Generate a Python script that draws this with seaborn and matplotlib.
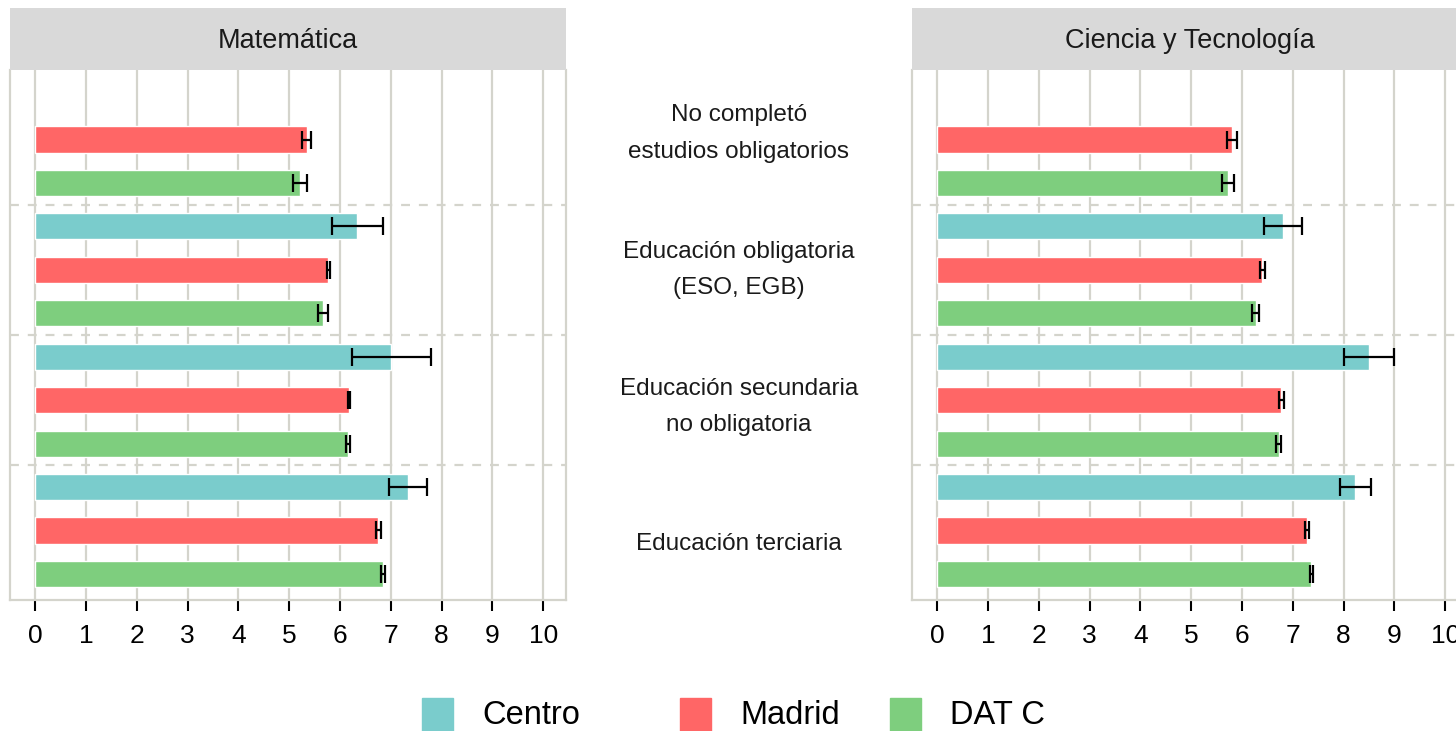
import numpy as np
import pandas as pd
import matplotlib
matplotlib.use("Agg")
import matplotlib.pyplot as plt
import seaborn as sns
from matplotlib.patches import Rectangle

# --- datos -----------------------------------------------------------------
niveles = [
    "No completó\nestudios obligatorios",
    "Educación obligatoria\n(ESO, EGB)",
    "Educación secundaria\nno obligatoria",
    "Educación terciaria",
]
series = ["Centro", "Madrid", "DAT C"]
colores = ["#7ACCCC", "#FF6666", "#7ECE7E"]
materias = ["Matemática", "Ciencia y Tecnología"]

mat_centro = [np.nan, 6.34, 7.01, 7.34]
mat_madrid = [5.34, 5.77, 6.18, 6.75]
mat_datc = [5.21, 5.66, 6.16, 6.84]
mat_centro_err = [np.nan, 0.50, 0.78, 0.37]
mat_madrid_err = [0.08, 0.03, 0.02, 0.05]
mat_datc_err = [0.14, 0.10, 0.04, 0.04]

cyt_centro = [np.nan, 6.81, 8.50, 8.23]
cyt_madrid = [5.81, 6.40, 6.77, 7.27]
cyt_datc = [5.72, 6.27, 6.72, 7.36]
cyt_centro_err = [np.nan, 0.37, 0.50, 0.31]
cyt_madrid_err = [0.10, 0.05, 0.05, 0.04]
cyt_datc_err = [0.12, 0.07, 0.05, 0.03]

valores = {
    "Matemática": [mat_centro, mat_madrid, mat_datc],
    "Ciencia y Tecnología": [cyt_centro, cyt_madrid, cyt_datc],
}
errores = {
    "Matemática": [mat_centro_err, mat_madrid_err, mat_datc_err],
    "Ciencia y Tecnología": [cyt_centro_err, cyt_madrid_err, cyt_datc_err],
}

filas = []
for m in materias:
    for i, nivel in enumerate(niveles):
        for s, serie in enumerate(series):
            filas.append({
                "materia": m,
                "nivel": nivel,
                "serie": serie,
                "posicion": f"{i}-{serie}",
                "valor": valores[m][s][i],
                "error": errores[m][s][i],
            })
df = pd.DataFrame(filas)
orden = [f"{i}-{s}" for i in range(len(niveles)) for s in series]

# --- estilo ----------------------------------------------------------------
sns.set_theme(style="white")
plt.rcParams["font.family"] = ["Liberation Sans", "DejaVu Sans"]

GRIS = "#D4D4CC"
W, H = 1456, 731
fig = plt.figure(figsize=(W / 100, H / 100), dpi=100)


def px(x0, y0, x1, y1):
    return [x0 / W, 1 - y1 / H, (x1 - x0) / W, (y1 - y0) / H]


paneles = [(10, materias[0]), (912, materias[1])]
for x0, materia in paneles:
    ax = fig.add_axes(px(x0, 70, x0 + 556, 600))
    sub = df[(df.materia == materia) & df.valor.notna()]
    sns.barplot(data=sub, x="valor", y="posicion", hue="serie", order=orden,
                hue_order=series, palette=colores, dodge=False, width=0.6,
                errorbar=None, orient="h", saturation=1, legend=False, ax=ax)
    ypos = [orden.index(p) for p in sub.posicion]
    ax.errorbar(sub.valor, ypos, xerr=sub.error, fmt="none", ecolor="black",
                elinewidth=1.6, capsize=6.5, capthick=1.6, zorder=5)

    ax.set_xlim(-0.5, 10.45)
    ax.set_ylim(len(orden) - 0.4, -0.6)
    ax.set_xticks(range(11))
    ax.set_yticks([])
    ax.set_xlabel("")
    ax.set_ylabel("")
    ax.grid(axis="x", color=GRIS, lw=1.6)
    ax.set_axisbelow(True)
    for g in range(1, len(niveles)):
        ax.axhline(g * 3 - 0.5, color=GRIS, lw=1.6, ls=(0, (4, 4)), zorder=0.5)
    for lado in ["left", "right", "bottom"]:
        ax.spines[lado].set_color(GRIS)
        ax.spines[lado].set_linewidth(1.6)
    ax.spines["top"].set_visible(False)
    ax.tick_params(axis="x", length=8, width=1.5, color="black",
                   labelsize=19, pad=9, labelcolor="black", bottom=True)

    tira = fig.add_axes(px(x0, 8, x0 + 556, 70))
    tira.set_facecolor("#D9D9D9")
    tira.set_xticks([])
    tira.set_yticks([])
    for sp in tira.spines.values():
        sp.set_visible(False)
    tira.text(0.5, 0.47, materia, ha="center", va="center", fontsize=19.5,
              color="#1A1A1A", transform=tira.transAxes)

# etiquetas de los niveles entre los dos paneles
centro = fig.add_axes(px(566, 65, 912, 612))
centro.axis("off")
centro.set_ylim(len(niveles) - 0.5, -0.5)
centro.set_xlim(0, 1)
for i, nivel in enumerate(niveles):
    centro.text(0.5, i, nivel, ha="center", va="center", fontsize=17.5,
                color="#1A1A1A", linespacing=1.85)

# leyenda
leyenda_x = [422, 680, 890]
for xi, serie, color in zip(leyenda_x, series, colores):
    fig.patches.append(Rectangle((xi / W, 1 - 731 / H), 31 / W, 33 / H,
                                 transform=fig.transFigure, color=color))
    fig.text((xi + 60) / W, 1 - 715 / H, serie, ha="left", va="center",
             fontsize=23.5, color="black")

fig.savefig("out.png", dpi=100)
